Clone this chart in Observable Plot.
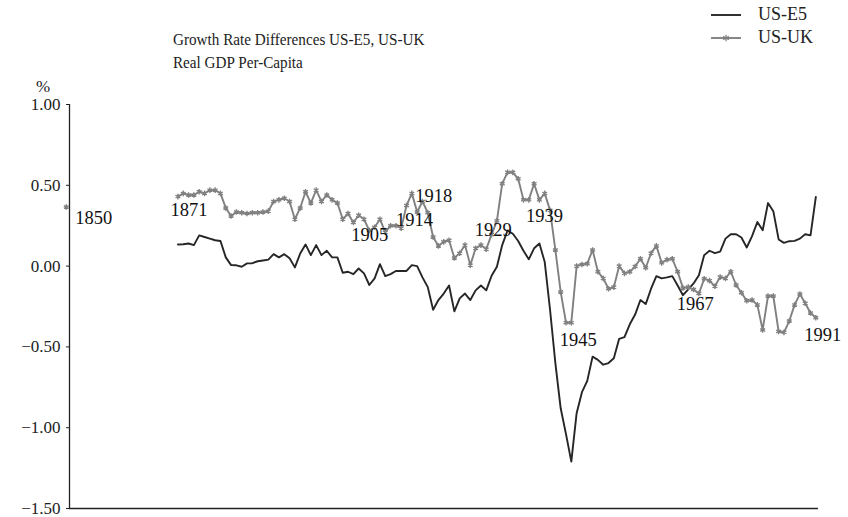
<!DOCTYPE html>
<html>
<head>
<meta charset="utf-8">
<script src="https://cdn.jsdelivr.net/npm/d3@7"></script>
<script src="https://cdn.jsdelivr.net/npm/@observablehq/plot@0.6"></script>
<style>
  html, body { margin: 0; padding: 0; background: #fff; }
  #wrap { position: relative; width: 848px; height: 517px; font-family: "Liberation Serif", "Times New Roman", serif; color: #222; }
  #chart { position: absolute; left: 0; top: 0; }
  #chart svg, #chart svg text { font-family: "Liberation Serif", "Times New Roman", serif; }
  .title { position: absolute; left: 173px; top: 28px; font-size: 16.5px; line-height: 23px; white-space: nowrap; transform: scaleX(0.92); transform-origin: left top; }
  .unit { position: absolute; left: 36px; top: 77px; font-size: 17px; }
  .legend { position: absolute; left: 710px; top: 3px; font-size: 18px; }
  .legend .item { display: flex; align-items: center; height: 23px; }
  .legend svg { margin-right: 16px; }
</style>
</head>
<body>
<div id="wrap">
  <div id="chart"></div>
  <div class="title">Growth Rate Differences US-E5, US-UK<br>Real GDP Per-Capita</div>
  <div class="unit">%</div>
  <div class="legend" id="legend"></div>
</div>
<script>
// ---- data ----
const seriesNames = ["US-E5", "US-UK"];
const seriesColors = ["#262626", "#808080"];
const firstYear = 1871;
const lastYear = 1991;
const years = d3.range(firstYear, lastYear + 1);

const usE5 = [
  0.134, 0.135, 0.14, 0.13, 0.19, 0.18, 0.17, 0.16, 0.155, 0.054,
  0.006, 0.005, -0.004, 0.017, 0.018, 0.03, 0.035, 0.04, 0.074, 0.054,
  0.074, 0.048, -0.008, 0.078, 0.134, 0.068, 0.13, 0.068, 0.095, 0.054,
  0.054, -0.041, -0.035, -0.05, -0.015, -0.045, -0.117, -0.076, 0.012, -0.062,
  -0.05, -0.03, -0.03, -0.03, 0.006, 0.0, -0.07, -0.13, -0.27, -0.21,
  -0.17, -0.12, -0.28, -0.20, -0.17, -0.21, -0.15, -0.12, -0.15, -0.06,
  -0.004, 0.13, 0.22, 0.20, 0.155, 0.095, 0.042, 0.11, 0.14, 0.025,
  -0.27, -0.60, -0.88, -1.04, -1.21,
  -0.91, -0.78, -0.71, -0.56, -0.58, -0.61, -0.60, -0.57, -0.45, -0.44,
  -0.36, -0.30, -0.21, -0.235, -0.14, -0.062, -0.076, -0.07, -0.062, -0.12,
  -0.18, -0.144, -0.107, -0.056, 0.068, 0.095, 0.08, 0.09, 0.17, 0.197,
  0.197, 0.177, 0.115, 0.185, 0.273, 0.222, 0.39, 0.34, 0.165, 0.144,
  0.154, 0.156, 0.17, 0.197, 0.19, 0.428
];

const usUK = [
  0.43, 0.45, 0.44, 0.44, 0.46, 0.45, 0.47, 0.47, 0.45, 0.36,
  0.31, 0.335, 0.33, 0.325, 0.33, 0.33, 0.335, 0.34, 0.40, 0.41,
  0.42, 0.40, 0.29, 0.36, 0.46, 0.39, 0.47, 0.40, 0.44, 0.41,
  0.39, 0.29, 0.325, 0.27, 0.315, 0.29, 0.22, 0.24, 0.29, 0.21,
  0.25, 0.25, 0.235, 0.375, 0.45, 0.335, 0.40, 0.33, 0.18, 0.125,
  0.15, 0.16, 0.05, 0.08, 0.13, 0.006, 0.11, 0.13, 0.105, 0.195,
  0.28, 0.51, 0.58, 0.58, 0.54, 0.41, 0.41, 0.51, 0.41, 0.45,
  0.345, 0.10, -0.16, -0.35, -0.35,
  0.0, 0.01, 0.015, 0.10, -0.035, -0.076, -0.14, -0.13, 0.0, -0.045,
  -0.035, -0.003, 0.045, -0.01, 0.08, 0.125, 0.02, 0.04, 0.045, -0.035,
  -0.135, -0.13, -0.145, -0.17, -0.078, -0.09, -0.125, -0.068, -0.076, -0.035,
  -0.117, -0.165, -0.214, -0.21, -0.24, -0.395, -0.185, -0.185, -0.405, -0.41,
  -0.34, -0.24, -0.173, -0.23, -0.29, -0.32
];

// isolated early US-UK observation
const ukEarlyYear = 1850;
const ukEarlyValue = 0.366;

const labelYears = [1850, 1871, 1905, 1914, 1918, 1929, 1939, 1945, 1967, 1991];

const yTicks = [1.0, 0.5, 0.0, -0.5, -1.0, -1.5];
const yDomain = [-1.5, 1.0];
const xDomain = [1850.6, 1991.5];

// ---- tables ----
const e5Rows = years.map((year, i) => ({year, value: usE5[i]}));
const ukRows = years.map((year, i) => ({year, value: usUK[i]}));
const ukAll = [{year: ukEarlyYear, value: ukEarlyValue}, ...ukRows];

const serif = "'Liberation Serif', 'Times New Roman', serif";

// label nudges (styling only)
const nudge = {
  1850: {dx: 9, dy: 11, anchor: "start"},
  1871: {dx: 11, dy: 13},
  1905: {dx: 11, dy: 20},
  1914: {dx: 8, dy: 15},
  1918: {dx: 6, dy: -17},
  1929: {dx: 7, dy: -19},
  1939: {dx: 5, dy: 16},
  1945: {dx: 7, dy: 17},
  1967: {dx: 7, dy: 17},
  1991: {dx: 7, dy: 17}
};

const labelMarks = labelYears.map(yr => {
  const n = nudge[yr];
  return Plot.text(ukAll.filter(d => d.year === yr), {
    x: "year", y: "value", text: d => String(d.year),
    dx: n.dx, dy: n.dy, textAnchor: n.anchor || "middle",
    fontSize: 18.5, fontFamily: serif, fill: "#111"
  });
});

const chart = Plot.plot({
  width: 848,
  height: 517,
  marginLeft: 69,
  marginRight: 30,
  marginTop: 104,
  marginBottom: 9,
  style: {fontFamily: serif, fontSize: "16px", background: "#fff", color: "#222"},
  x: {domain: xDomain, axis: null},
  y: {domain: yDomain},
  marks: [
    Plot.axisY({ticks: yTicks, tickFormat: d3.format(".2f"), tickSize: 3, tickPadding: 6, label: null, fontSize: 17, fontFamily: serif}),
    Plot.ruleX([xDomain[0]], {stroke: "#222", strokeWidth: 1.3}),
    Plot.ruleY([yDomain[0]], {stroke: "#222", strokeWidth: 1.3}),
    Plot.line(e5Rows, {x: "year", y: "value", stroke: seriesColors[0], strokeWidth: 1.9}),
    Plot.line(ukRows, {x: "year", y: "value", stroke: seriesColors[1], strokeWidth: 1.9}),
    Plot.dot(ukAll, {x: "year", y: "value", symbol: "asterisk", r: 2.6, stroke: seriesColors[1], strokeWidth: 1.4}),
    ...labelMarks
  ]
});
document.getElementById("chart").appendChild(chart);

// ---- legend ----
const legend = d3.select("#legend");
seriesNames.forEach((name, i) => {
  const item = legend.append("div").attr("class", "item");
  const svg = item.append("svg").attr("width", 32).attr("height", 10);
  svg.append("line").attr("x1", 1).attr("x2", 31).attr("y1", 5).attr("y2", 5)
    .attr("stroke", seriesColors[i]).attr("stroke-width", 1.9);
  if (i === 1) {
    svg.append("path").attr("transform", "translate(16,5)")
      .attr("d", d3.symbol(d3.symbolAsterisk, 30)())
      .attr("stroke", seriesColors[i]).attr("stroke-width", 1.2).attr("fill", "none");
  }
  item.append("span").text(name);
});
</script>
</body>
</html>
